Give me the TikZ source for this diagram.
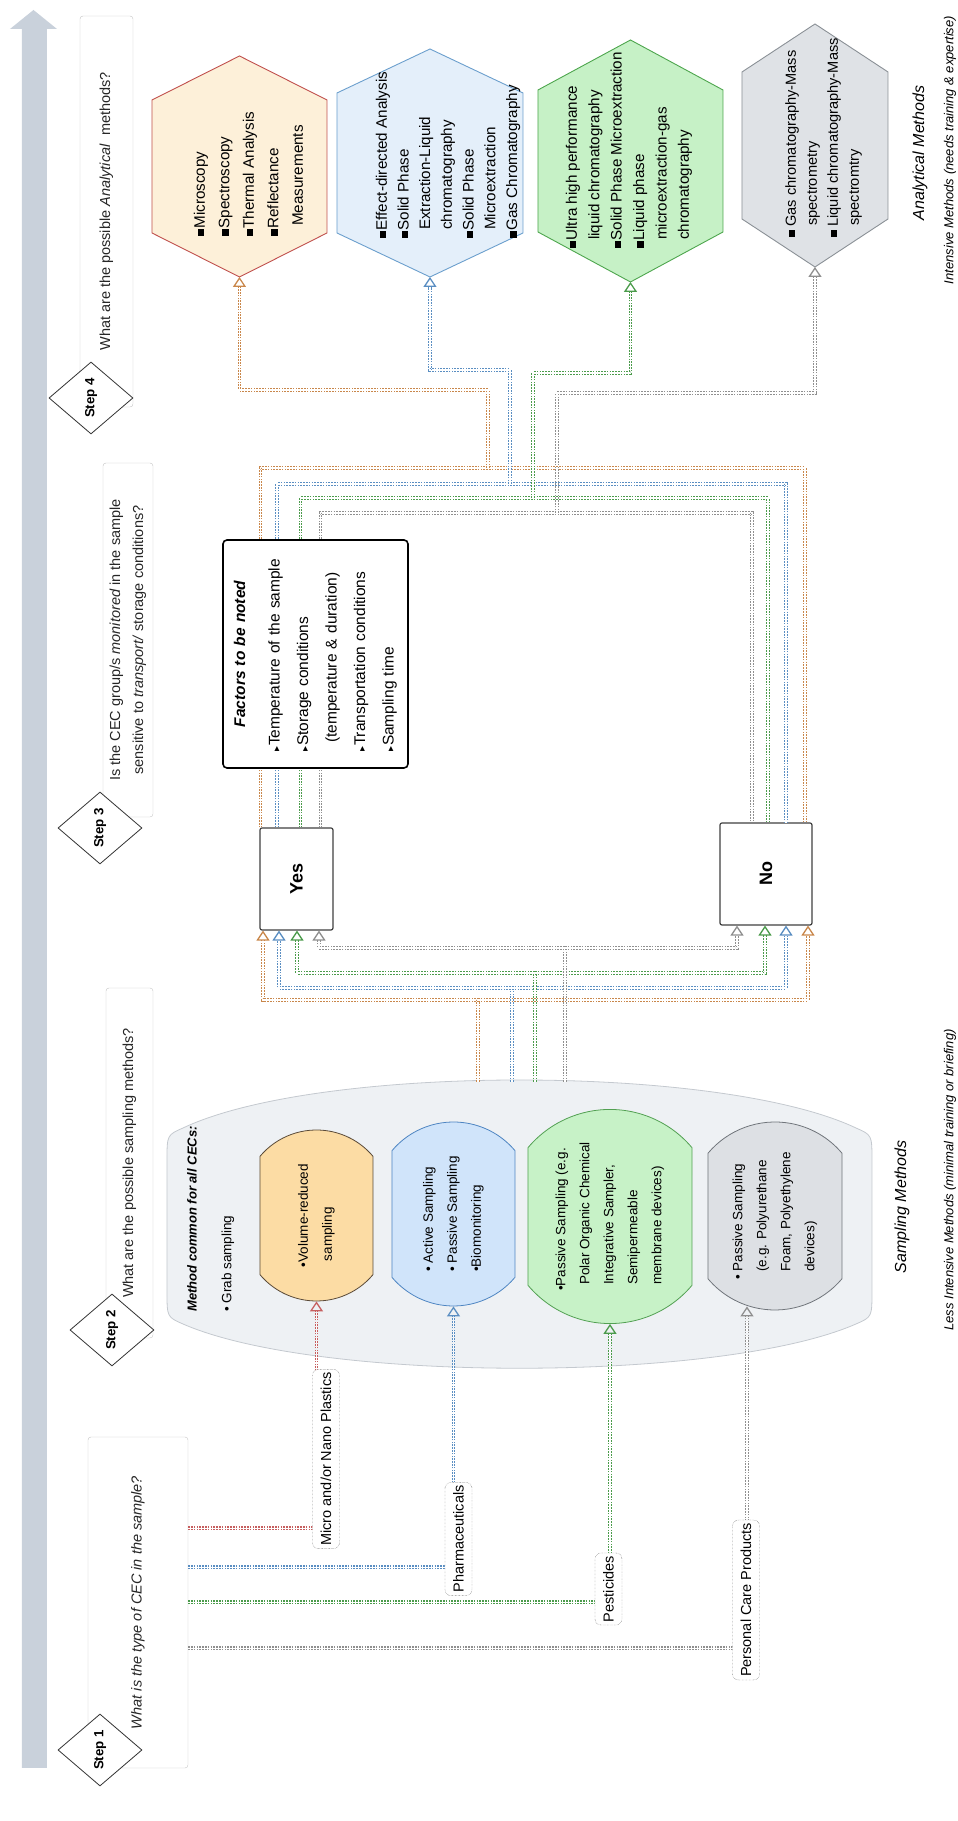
\documentclass[tikz,border=0pt]{standalone}
\usepackage{fontspec}
\setmainfont{Liberation Sans}
\newfontfamily\symfont{DejaVu Sans}
\usetikzlibrary{arrows.meta,shapes.geometric,shapes.misc}

\definecolor{arrowgray}{HTML}{C9D1DB}
\definecolor{conO}{HTML}{C9874B}
\definecolor{conB}{HTML}{5A8EC2}
\definecolor{conG}{HTML}{4B9B4B}
\definecolor{conY}{HTML}{8F8F8F}
\definecolor{conR}{HTML}{C65F5F}
\definecolor{hexOfill}{HTML}{FDF0D9}
\definecolor{hexOdraw}{HTML}{C0504D}
\definecolor{hexBfill}{HTML}{E4EFFA}
\definecolor{hexBdraw}{HTML}{6B9FCD}
\definecolor{hexGfill}{HTML}{C6F1C6}
\definecolor{hexGdraw}{HTML}{4DA64D}
\definecolor{hexYfill}{HTML}{DFE2E6}
\definecolor{hexYdraw}{HTML}{8A9096}
\definecolor{volfill}{HTML}{FCDCA4}
\definecolor{voldraw}{HTML}{5A4A38}
\definecolor{actfill}{HTML}{D0E4FA}
\definecolor{actdraw}{HTML}{4E85C2}
\definecolor{pocfill}{HTML}{C7F2C7}
\definecolor{pocdraw}{HTML}{52A052}
\definecolor{pufill}{HTML}{DDE0E4}
\definecolor{pudraw}{HTML}{70757B}
\definecolor{groupfill}{HTML}{EEF1F4}
\definecolor{groupdraw}{HTML}{C4C9CF}

\newcommand\sqbul{\rule[0.5pt]{6.5pt}{6.5pt}\hspace{0.8pt}}
\newcommand\hexind{\hspace*{8pt}}
\newcommand\tribul{{\symfont\fontsize{10}{10}\selectfont ▸}\hspace{1pt}}

\tikzset{
  stepbox/.style={draw=gray!45, fill=white, rounded corners=3pt, inner sep=2pt,
    text=black!85, font=\fontsize{14.5}{23}\selectfont},
  stepdiamond/.style={diamond, draw=black!80, fill=white, line width=0.8pt,
    minimum width=72pt, minimum height=84pt, inner sep=0pt,
    font=\bfseries\fontsize{13.3}{16}\selectfont},
  container/.style={fill=groupfill, draw=groupdraw, line width=0.8pt},
  sampbox/.style={rounded rectangle, rounded rectangle arc length=100, line width=0.8pt,
    align=left, inner sep=2pt, font=\fontsize{13.5}{24}\selectfont},
  catlabel/.style={draw=black!70, densely dotted, fill=white, rounded corners=6pt,
    minimum height=27pt, inner sep=3pt, font=\fontsize{14.5}{17}\selectfont},
  con/.style={line width=1.1pt, double=white, double distance=1.3pt,
    dash pattern=on 1.6pt off 1.2pt},
  headed/.style={-{Triangle[open, width=13pt, length=10pt, line width=1.3pt]}},
  hexline/.style={line width=0.9pt},
  hextext/.style={anchor=west, align=left, inner sep=0pt, font=\fontsize{15.2}{22}\selectfont},
  decbox/.style={draw=black!75, fill=white, line width=1.2pt, rounded corners=2pt,
    font=\bfseries\fontsize{18}{20}\selectfont},
  factbox/.style={draw=black, fill=white, line width=1.6pt, rounded corners=4pt},
  groupnote/.style={font=\itshape\fontsize{13}{15}\selectfont},
  grouphead/.style={font=\itshape\fontsize{16}{19}\selectfont}
}

\begin{document}
\begin{tikzpicture}[x=1pt, y=1pt, rotate=90, transform shape]
    \useasboundingbox (0,0) rectangle (1821,958);

    % progress arrow
    \fill[arrowgray] (53,911) -- (1792,911) -- (1792,901) -- (1811,924.5)
        -- (1792,948) -- (1792,936) -- (53,936) -- cycle;

    % questions
    \node[stepbox, minimum width=331pt, minimum height=100pt,
        font=\itshape\fontsize{14.5}{18}\selectfont] (q1) at (218.5,820)
        {What is the type of CEC in the sample?};
    \node[stepbox, minimum width=350pt, minimum height=47pt] (q2) at (658,828.5)
        {What are the possible sampling methods?};
    \node[stepbox, minimum width=354pt, minimum height=50pt, align=center] (q3) at (1181,830)
        {Is the CEC group/s \textit{monitored} in the sample\\ sensitive to \textit{transport/} storage conditions?};
    \node[stepbox, minimum width=391pt, minimum height=53pt] (q4) at (1609.5,851.5)
        {What are the possible \textit{Analytical}\ \ methods?};

    % step diamonds
    \foreach \n/\x/\y in {1/71/858, 2/491/846, 3/993/858, 4/1423/867}
        \node[stepdiamond] (s\n) at (\x,\y) {Step \n};

    % sampling methods group
    \draw[container] (530,791) -- (660,791) .. controls (686,791) .. (693,775)
        .. controls (757,640) and (757,237) .. (693,102)
        .. controls (686,86) .. (660,86) -- (530,86) .. controls (504,86) .. (497,102)
        .. controls (438,237) and (438,640) .. (497,775)
        .. controls (504,791) .. (530,791) -- cycle;
    \node[anchor=west, inner sep=0pt, font=\bfseries\itshape\fontsize{13}{16}\selectfont] (common)
        at (509,766) {Method common for all CECs:};
    \node[anchor=west, inner sep=0pt, font=\fontsize{13.5}{16}\selectfont] (grab)
        at (509,730) {\textbullet\ Grab sampling};

    \node[sampbox, fill=volfill, draw=voldraw, minimum width=175pt, minimum height=113pt] (volbox)
        at (605.5,641.5) {\textbullet Volume-reduced\\ \hspace*{6pt}sampling};
    \node[sampbox, fill=actfill, draw=actdraw, minimum width=188pt, minimum height=123pt] (actbox)
        at (607,504.5) {\textbullet\ Active Sampling\\ \textbullet\ Passive Sampling\\ \textbullet Biomonitoring};
    \node[sampbox, fill=pocfill, draw=pocdraw, minimum width=193pt, minimum height=164pt] (pocbox)
        at (604.5,348) {\textbullet Passive Sampling (e.g.\\ \hspace*{6pt}Polar Organic Chemical\\
        \hspace*{6pt}Integrative Sampler,\\ \hspace*{6pt}Semipermeable\\ \hspace*{6pt}membrane devices)};
    \node[sampbox, fill=pufill, draw=pudraw, minimum width=192pt, minimum height=134pt] (pubox)
        at (605,183) {\textbullet\ Passive Sampling\\ \hspace*{8pt}(e.g. Polyurethane\\
        \hspace*{8pt}Foam, Polyethylene\\ \hspace*{8pt}devices)};

    \node[grouphead] (samphead) at (614,56) {Sampling Methods};
    \node[groupnote] (sampnote) at (641,8) {Less Intensive Methods (minimal training or briefing)};

    % decision boxes
    \node[decbox, minimum width=102pt, minimum height=73pt] (yes) at (942,661.5) {Yes};
    \node[decbox, minimum width=102pt, minimum height=92pt] (no) at (947,192) {No};

    % analytical methods hexagons
    \foreach \c/\a/\b/\p/\l/\h in {O/1544/718.5/44/133/87.5, B/1544/528/44/140/93,
                                   G/1539/327.5/50/142/92.5, Y/1554/143/48/147/73} {
        \coordinate (hex\c) at (\a,\b);
        \draw[hexline, fill=hex\c fill, draw=hex\c draw] (hex\c) -- ++(\p,\h) -- ++(\l,0)
            -- ++(\p,-\h) -- ++(-\p,-\h) -- ++(-\l,0) -- cycle;
    }
    \node[hextext, font=\fontsize{15.2}{24.5}\selectfont] (anaO) at (1585,709.5)
        {\sqbul Microscopy\\ \sqbul Spectroscopy\\ \sqbul Thermal Analysis\\ \sqbul Reflectance\\ \hspace*{10pt}Measurements};
    \node[hextext, font=\fontsize{15.2}{21.7}\selectfont] (anaB) at (1583,510)
        {\sqbul Effect-directed Analysis\\ \sqbul Solid Phase\\ \hexind Extraction-Liquid\\ \hexind chromatography\\
        \sqbul Solid Phase\\ \hexind Microextraction\\ \sqbul Gas Chromatography};
    \node[hextext, font=\fontsize{15.2}{22.4}\selectfont] (anaG) at (1573,329)
        {\sqbul Ultra high performance\\ \hexind liquid chromatography\\ \sqbul Solid Phase Microextraction\\
        \sqbul Liquid phase\\ \hexind microextraction-gas\\ \hexind chromatography};
    \node[hextext, font=\fontsize{14.6}{21}\selectfont] (anaY) at (1584,134.5)
        {\sqbul\hspace{3pt}Gas chromatography-Mass\\ \hspace*{11pt}spectrometry\\
        \sqbul\hspace{3pt}Liquid chromatography-Mass\\ \hspace*{11pt}spectromtry};

    \node[grouphead] (anahead) at (1668,38) {Analytical Methods};
    \node[groupnote] (ananote) at (1671,8) {Intensive Methods (needs training \& expertise)};

    % CEC type -> sampling method
    \path (pubox.west) ++(4,28) coordinate (puin);
    \draw[con, conR, headed] (q1.south west) ++(240,0) |- (volbox.west);
    \draw[con, conB, headed] (q1.south west) ++(201,0) |- (actbox.west);
    \draw[con, conG, headed] (q1.south west) ++(166,0) |- (pocbox.west);
    \draw[con, conY, headed] (q1.south west) ++(120,0) |- (puin);

    % ports on the decision boxes
    \foreach \c/\d in {O/33.5, B/17.5, G/-0.5, Y/-22.5}
        \path (yes.west) ++(0,\d) coordinate (yin\c);
    \foreach \c/\d in {O/-42, B/-20, G/1, Y/29}
        \path (no.west) ++(0,\d) coordinate (nin\c);
    \foreach \c/\d in {O/36, B/19.5, G/-4, Y/-24}
        \path (yes.east) ++(0,\d) coordinate (yout\c);
    \foreach \c/\d in {O/-39, B/-20, G/-2, Y/14}
        \path (no.east) ++(0,\d) coordinate (nout\c);

    % sampling method -> yes / no
    \foreach \c/\b/\j in {O/480/821, B/446/833, G/423/848, Y/393/873} {
        \coordinate (out\c) at (739,\b);
        \coordinate (j\c) at (\j,\b);
        \draw[con, con\c, headed] (out\c) -- (j\c) |- (yin\c);
        \draw[con, con\c, headed] (j\c) |- (nin\c);
    }

    % yes / no -> analytical method
    \foreach \c/\a/\b/\ext in {O/1353/470/78, B/1337/448/114, G/1323/425/125, Y/1308/401/120} {
        \coordinate (u\c) at (\a,\b);
        \draw[con, con\c] (yout\c) -| (u\c) |- (nout\c);
        \draw[con, con\c, headed] (u\c) -- ++(\ext,0) |- (hex\c);
    }

    % CEC type labels
    \node[catlabel] (mnp) at (362,632) {Micro and/or Nano Plastics};
    \node[catlabel] (pharma) at (282,499.5) {Pharmaceuticals};
    \node[catlabel] (pest) at (232,349.5) {Pesticides};
    \node[catlabel] (pcp) at (221,212) {Personal Care Products};

    % factors box
    \node[factbox, minimum width=228pt, minimum height=185pt, text width=196pt, align=left,
        font=\fontsize{15.5}{28.5}\selectfont] (factors) at (1167,642.5)
        {\makebox[196pt]{\bfseries\itshape Factors to be noted}\\[6pt]
        \tribul Temperature of the sample\\ \tribul Storage conditions\\
        \hspace*{9pt}(temperature \& duration)\\ \tribul Transportation conditions\\ \tribul Sampling time};
\end{tikzpicture}
\end{document}
